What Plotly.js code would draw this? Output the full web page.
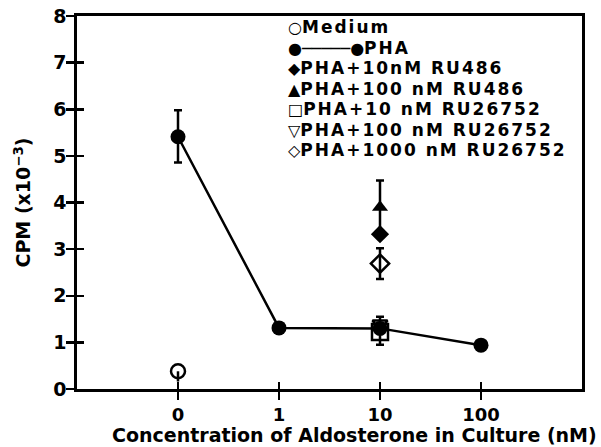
<!DOCTYPE html>
<html>
<head>
<meta charset="utf-8">
<script src="https://cdn.plot.ly/plotly-3.0.1.min.js"></script>
<style>html,body{margin:0;padding:0;background:#fff;}</style>
</head>
<body>
<div id="chart" style="width:601px;height:447px;"></div>
<script>
// ---- data ----
const concentrations = ['0', '1', '10', '100'];
const phaValues = [5.41, 1.31, 1.30, 0.94];
const phaErrPlus = [0.57, 0, 0, 0];
const phaErrMinus = [0.55, 0, 0, 0];

const mediumX = ['0'];
const mediumValues = [0.38];
const mediumErrMinus = [0.22];

const treatX = ['10'];
const ru486_10Values = [3.32];
const ru486_100Values = [3.90];
const ru486_100Err = [0.57];
const ru26752_10Values = [1.22];
const ru26752_10ErrMinus = [0.27];
const ru26752_100Values = [1.40];
const ru26752_100ErrPlus = [0.15];
const ru26752_1000Values = [2.69];
const ru26752_1000Err = [0.33];

const yTickValues = [0, 1, 2, 3, 4, 5, 6, 7, 8];

const legendSymbols = ['○', '●─────●', '◆', '▲', '□', '▽', '◇'];
const legendLabels = ['Medium', 'PHA', 'PHA+10nM RU486', 'PHA+100 nM RU486',
  'PHA+10 nM RU26752', 'PHA+100 nM RU26752', 'PHA+1000 nM RU26752'];

// ---- styling ----
const FONT = 'DejaVu Sans';
const K = '#000';
const plotLeft = 77, plotRight = 582, plotTop = 16, plotBottom = 389;
const pw = plotRight - plotLeft, ph = plotBottom - plotTop;
const px2x = p => (p - plotLeft) / pw;
const py2y = p => (plotBottom - p) / ph;

function err(plus, minus, width) {
  return {type: 'data', symmetric: false, array: plus, arrayminus: minus,
          color: K, thickness: 2.5, width: width};
}

const traces = [
  {name: 'PHA+10 nM RU26752', x: treatX, y: ru26752_10Values, mode: 'markers',
   marker: {symbol: 'square-open', size: 16, color: K, line: {color: K, width: 2.5}},
   error_y: err([0], ru26752_10ErrMinus, 4)},
  {name: 'PHA+100 nM RU26752', x: treatX, y: ru26752_100Values, mode: 'markers',
   marker: {symbol: 'triangle-down-open', size: 13, color: K, line: {color: K, width: 2.5}},
   error_y: err(ru26752_100ErrPlus, [0], 4)},
  {name: 'PHA+100 nM RU486', x: treatX, y: ru486_100Values, mode: 'markers',
   marker: {symbol: 'triangle-up', size: 14, color: K},
   error_y: err(ru486_100Err, ru486_100Err, 4)},
  {name: 'PHA+10nM RU486', x: treatX, y: ru486_10Values, mode: 'markers',
   marker: {symbol: 'diamond', size: 14, color: K}},
  {name: 'PHA+1000 nM RU26752', x: treatX, y: ru26752_1000Values, mode: 'markers',
   marker: {symbol: 'diamond-open', size: 14, color: K, line: {color: K, width: 2.5}},
   error_y: err(ru26752_1000Err, ru26752_1000Err, 4)},
  {name: 'Medium', x: mediumX, y: mediumValues, mode: 'markers',
   marker: {symbol: 'circle-open', size: 14, color: K, line: {color: K, width: 2.5}},
   error_y: err([0], mediumErrMinus, 0)},
  {name: 'PHA', x: concentrations, y: phaValues, mode: 'lines+markers',
   line: {color: K, width: 2.5},
   marker: {symbol: 'circle', size: 15, color: K},
   error_y: err(phaErrPlus, phaErrMinus, 4)},
  // helper trace for the inner half of the crossing ticks
  {x: concentrations, y: concentrations.map(() => null), xaxis: 'x2', yaxis: 'y2',
   mode: 'markers', showlegend: false, hoverinfo: 'skip'}
];

const tickFont = {family: FONT, size: 18, weight: 'bold', color: K};

const annotations = [
  {text: 'Concentration of Aldosterone in Culture (nM)', xref: 'paper', yref: 'paper',
   x: px2x(354), y: py2y(435), xanchor: 'center', yanchor: 'middle', showarrow: false,
   font: {family: FONT, size: 19, weight: 'bold', color: K}},
  {text: 'CPM (x10<sup>−3</sup>)', xref: 'paper', yref: 'paper',
   x: px2x(22), y: 0.5, xanchor: 'center', yanchor: 'middle', textangle: -90, showarrow: false,
   font: {family: FONT, size: 19, weight: 'bold', color: K}}
];

// legend drawn as one multi-line text; line pitch = 1.3 * base font size
const legendRow = 20.5, legendTop = 27, legendLeft = 287;
const legendText = legendLabels.map((lab, i) =>
  '<span style="font-size:16px">' + legendSymbols[i] + '</span>' +
  '<span style="font-size:17px;letter-spacing:2px">' + lab + '</span>').join('<br>');
const legendMid = legendTop + legendRow * (legendLabels.length - 1) / 2;
annotations.push({
  text: legendText, xref: 'paper', yref: 'paper',
  x: px2x(legendLeft), y: py2y(legendMid), xanchor: 'left', yanchor: 'middle', align: 'left',
  showarrow: false, borderpad: 0,
  font: {family: FONT, size: legendRow / 1.3, weight: 'bold', color: K}
});

const layout = {
  width: 601, height: 447,
  margin: {l: plotLeft, r: 601 - plotRight, t: plotTop, b: 447 - plotBottom, pad: 0},
  paper_bgcolor: '#fff', plot_bgcolor: '#fff',
  showlegend: false,
  xaxis: {type: 'category', categoryarray: concentrations, range: [-1, 4],
    ticks: 'outside', ticklen: 8, tickwidth: 2.5, tickcolor: K,
    showline: true, linewidth: 2.8, linecolor: K, mirror: true,
    showgrid: false, zeroline: false, tickfont: tickFont, fixedrange: true},
  yaxis: {range: [0, 8], tickvals: yTickValues, ticktext: yTickValues.map(String),
    ticks: 'outside', ticklen: 8, tickwidth: 2.5, tickcolor: K, ticklabelstandoff: -4,
    showline: true, linewidth: 2.8, linecolor: K, mirror: true,
    showgrid: false, zeroline: false, tickfont: {family: FONT, size: 19, weight: 'bold', color: K},
    fixedrange: true},
  xaxis2: {type: 'category', categoryarray: concentrations, range: [-1, 4],
    overlaying: 'x', side: 'bottom', anchor: 'y2',
    ticks: 'inside', ticklen: 7, tickwidth: 2.5, tickcolor: K,
    showticklabels: false, showline: false, showgrid: false, zeroline: false},
  yaxis2: {range: [0, 8], tickvals: yTickValues, overlaying: 'y', side: 'left', anchor: 'x2',
    ticks: 'inside', ticklen: 7, tickwidth: 2.5, tickcolor: K,
    showticklabels: false, showline: false, showgrid: false, zeroline: false},
  annotations: annotations
};

Plotly.newPlot('chart', traces, layout, {displayModeBar: false, staticPlot: true});
</script>
</body>
</html>
